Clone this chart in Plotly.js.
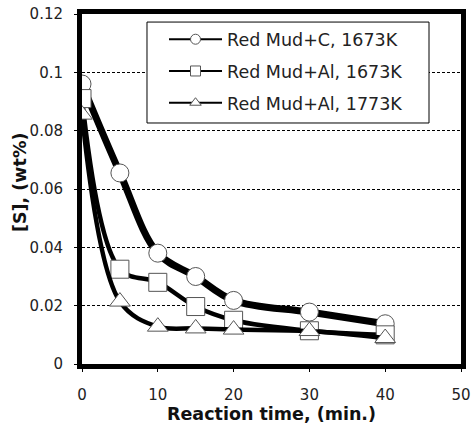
<!DOCTYPE html>
<html>
<head>
<meta charset="utf-8">
<script src="https://cdn.plot.ly/plotly-3.0.1.min.js"></script>
<style>html,body{margin:0;padding:0;background:#fff;}#chart{width:472px;height:426px;}</style>
</head>
<body>
<div id="chart"></div>
<script>
var time = [0, 5, 10, 15, 20, 30, 40];
var seriesNames = ["Red Mud+C, 1673K", "Red Mud+Al, 1673K", "Red Mud+Al, 1773K"];
var redMudC1673 = [0.096, 0.0655, 0.038, 0.030, 0.0218, 0.0178, 0.0138];
var redMudAl1673 = [0.091, 0.0325, 0.028, 0.0197, 0.015, 0.0114, 0.0100];
var redMudAl1773 = [0.0855, 0.0214, 0.0128, 0.0122, 0.0118, 0.0113, 0.0089];
var yTicks = [0, 0.02, 0.04, 0.06, 0.08, 0.1, 0.12];
var yTickText = ["0", "0.02", "0.04", "0.06", "0.08", "0.1", "0.12"];
var xTicks = [0, 10, 20, 30, 40, 50];
var xTitle = "Reaction time, (min.)";
var yTitle = "[S], (wt%)";

var allY = [redMudC1673, redMudAl1673, redMudAl1773];
var symbols = ["circle", "square", "triangle-up"];
var plotWidths = [7, 4.5, 4.5];
var traces = [];
// thin-line copies that carry the legend entries, drawn underneath
for (var i = 0; i < 3; i++) {
  traces.push({
    x: time, y: allY[i], name: seriesNames[i], type: "scatter", mode: "lines+markers",
    legendgroup: "g" + i, showlegend: true, hoverinfo: "skip",
    line: {color: "#000", width: 2, shape: "spline", smoothing: 1},
    marker: {symbol: symbols[i], size: 10, color: "#fff", line: {color: "#555", width: 1}}
  });
}
for (var j = 0; j < 3; j++) {
  traces.push({
    x: time, y: allY[j], name: seriesNames[j], type: "scatter", mode: "lines+markers",
    legendgroup: "g" + j, showlegend: false,
    line: {color: "#000", width: plotWidths[j], shape: "spline", smoothing: 1},
    marker: {symbol: symbols[j], size: 18, color: "#fff", line: {color: "#555", width: 1}}
  });
}

var layout = {
  width: 472, height: 426,
  margin: {l: 82, r: 11, t: 14, b: 62},
  paper_bgcolor: "#fff", plot_bgcolor: "#fff",
  showlegend: true,
  font: {family: "DejaVu Sans", color: "#222", size: 15},
  xaxis: {
    range: [0, 50], tickvals: xTicks, ticks: "outside", ticklen: 3, tickcolor: "#000",
    ticklabelstandoff: 10,
    showline: true, linewidth: 5, linecolor: "#000", mirror: true,
    showgrid: false, zeroline: false,
    tickfont: {family: "DejaVu Sans", size: 15, color: "#222"},
    title: {text: xTitle, font: {family: "DejaVu Sans", size: 17.5, weight: "bold", color: "#111"}, standoff: 5}
  },
  yaxis: {
    range: [0, 0.12], tickvals: yTicks, ticktext: yTickText, ticks: "outside", ticklen: 3, tickcolor: "#000",
    ticklabelstandoff: 8,
    showline: true, linewidth: 5, linecolor: "#000", mirror: true,
    showgrid: true, gridcolor: "#000", gridwidth: 1, griddash: "3px,2px", zeroline: false,
    tickfont: {family: "DejaVu Sans", size: 15, color: "#222"}
  },
  annotations: [{
    text: yTitle, xref: "paper", yref: "paper", x: -0.1636, y: 0.52,
    xanchor: "center", yanchor: "middle", textangle: -90, showarrow: false,
    font: {family: "DejaVu Sans", size: 17.5, weight: "bold", color: "#111"}
  }],
  shapes: [{
    type: "rect", xref: "paper", yref: "paper", x0: 0.1715, x1: 0.9156, y0: 0.6886, y1: 0.977,
    fillcolor: "#fff", line: {color: "#000", width: 1}, layer: "above"
  }],
  legend: {
    x: 0.2164, y: 0.979, xanchor: "left", yanchor: "top",
    bgcolor: "rgba(0,0,0,0)", borderwidth: 0,
    font: {family: "DejaVu Sans", size: 17.5, color: "#222"},
    traceorder: "grouped", tracegroupgap: 6, itemwidth: 53
  }
};
Plotly.newPlot("chart", traces, layout, {displayModeBar: false, staticPlot: true});
</script>
</body>
</html>
